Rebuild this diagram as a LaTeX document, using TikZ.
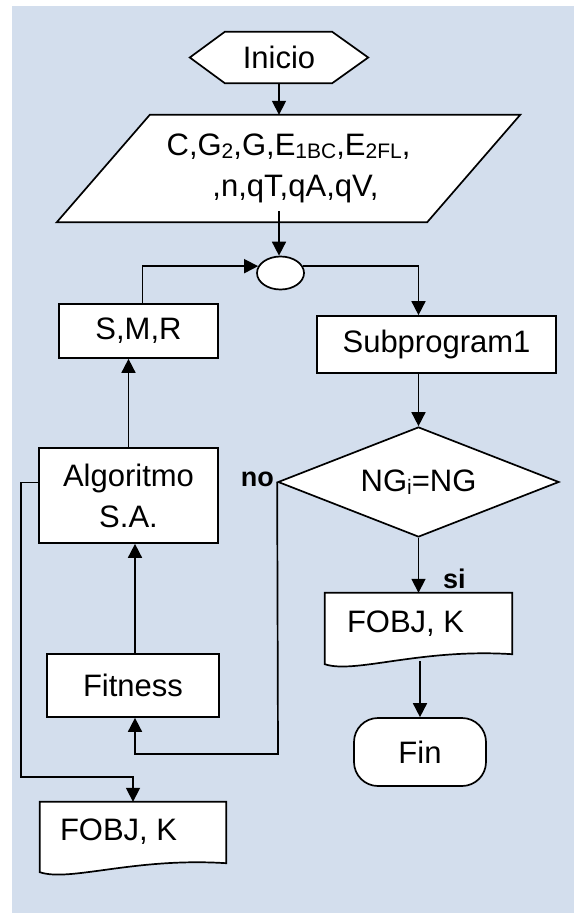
\documentclass[tikz,border=0pt]{standalone}
\usepackage{fontspec}
\setmainfont{Liberation Sans}
\usetikzlibrary{arrows.meta,shapes.geometric,calc}
\definecolor{paperblue}{RGB}{211,222,237}
\pgfdeclarelayer{paper}
\pgfdeclarelayer{shapes}
\pgfsetlayers{paper,shapes,main}
% lowered, smaller index text
\newcommand\sbs[1]{\raisebox{-3pt}{\fontsize{21}{21}\selectfont #1}}

\begin{document}
\begin{tikzpicture}[x=1pt,y=-1pt,
  txt/.style={font=\fontsize{31}{41}\selectfont},
  area/.style={rectangle, inner sep=0pt, txt, align=center},
  box/.style={rectangle, draw, fill=white, line width=1.7pt, inner sep=0pt, txt, align=center},
  outline/.style={draw, fill=white, line width=1.7pt},
  flow/.style={line width=1.7pt, -{Triangle[length=14pt,width=14pt]}},
  tag/.style={font=\fontsize{27}{27}\selectfont\bfseries, inner sep=0pt}
]
\useasboundingbox (0,0) rectangle (574,913);
\begin{pgfonlayer}{paper}
  \fill[paperblue] (12,6) rectangle (574,913);
\end{pgfonlayer}

% ---- nodes ----
\node[area, minimum width=178pt, minimum height=51pt] (ini) at (279,57.5) {Inicio};
\node[area, minimum width=463pt, minimum height=107pt] (par) at (288.5,168.5)
  {C,G\sbs{2},G,E\sbs{1BC},E\sbs{2FL},\\\hspace*{14pt},n,qT,qA,qV,};
\node[ellipse, draw, fill=white, line width=1.7pt, minimum width=47pt,
      minimum height=33pt, inner sep=0pt] (ell) at (280.5,273) {};
\node[box, minimum width=159pt, minimum height=54pt] (smr) at (138.5,331) {S,M,R};
\node[box, minimum width=239pt, minimum height=57pt] (sub) at (436.5,344.5) {Subprogram1};
\node[diamond, aspect=2.55, draw, fill=white, line width=1.7pt, inner sep=0pt,
      minimum width=281pt, minimum height=110pt, txt] (dia) at (418.5,482) {NG\sbs{i}=NG};
\node[box, minimum width=179pt, minimum height=95pt] (alg) at (128.5,495.5) {Algoritmo\\S.A.};
\node[box, minimum width=172pt, minimum height=63pt] (fit) at (133,685.5) {Fitness};
\node[area, minimum width=187pt, minimum height=71pt] (out1) at (418.5,628.5) {};
\node[area, minimum width=186pt, minimum height=70pt] (out2) at (133,837) {};
\node[txt, inner sep=0pt, anchor=west] (out1txt) at ([xshift=22pt,yshift=5pt]out1.west) {FOBJ, K};
\node[txt, inner sep=0pt, anchor=west] (out2txt) at ([xshift=20pt,yshift=5pt]out2.west) {FOBJ, K};
\node[draw, fill=white, rounded corners=24pt, line width=1.7pt, minimum width=132pt,
      minimum height=68pt, inner sep=0pt, txt] (fin) at (420,752) {Fin};

% ---- outlines of the special shapes ----
\begin{pgfonlayer}{shapes}
  \draw[outline] (ini.west) -- ([xshift=35pt]ini.north west) -- ([xshift=-36pt]ini.north east)
    -- (ini.east) -- ([xshift=-36pt]ini.south east) -- ([xshift=35pt]ini.south west) -- cycle;
  \draw[outline] ([xshift=93pt]par.north west) -- (par.north east)
    -- ([xshift=-93pt]par.south east) -- (par.south west) -- cycle;
  \draw[outline] (out1.north west) -- (out1.north east) -- ([yshift=10pt]out1.south east)
    .. controls ($(out1.south east)+(-92,-16)$) and ($(out1.south west)+(30,10)$) .. (out1.south west) -- cycle;
  \draw[outline] (out2.north west) -- (out2.north east) -- ([yshift=9pt]out2.south east)
    .. controls ($(out2.south east)+(-92,-15)$) and ($(out2.south west)+(30,10)$) .. (out2.south west) -- cycle;
\end{pgfonlayer}

% ---- connectors ----
\coordinate (parout) at ($(ini.south |- par.south)+(0,-11)$);
\coordinate (finin) at ($(fin.north |- out1.south)+(0,-3)$);
\coordinate (nobend) at (278,754);
\coordinate (outbend) at (21,777);

\draw[flow] (ini.south) -- (ini.south |- par.north);
\draw[flow] (parout) -- (parout |- ell.north);
\draw[flow] (ell.17) -| (dia.north |- sub.north);
\draw[flow] (dia.north |- sub.south) -- (dia.north);
\draw[flow] (dia.south) -- (dia.south |- out1.north);
\draw[flow] (finin) -- (fin.north);
\draw[flow] (dia.west) -- (nobend) -| ([xshift=2pt]fit.south);
\draw[flow] ([xshift=2pt]fit.north) -- ([xshift=2pt]fit.north |- alg.south);
\draw[flow] (alg.north) -- (alg.north |- smr.south);
\draw[flow] ([xshift=4pt]smr.north) |- (ell.163);
\draw[flow] ([yshift=13pt]alg.west) -| (outbend) -| (out2.north);

% ---- branch labels ----
\node[tag, anchor=east] (nolbl) at (274,479) {no};
\node[tag, anchor=west] (silbl) at (443,579) {si};
\end{tikzpicture}
\end{document}
